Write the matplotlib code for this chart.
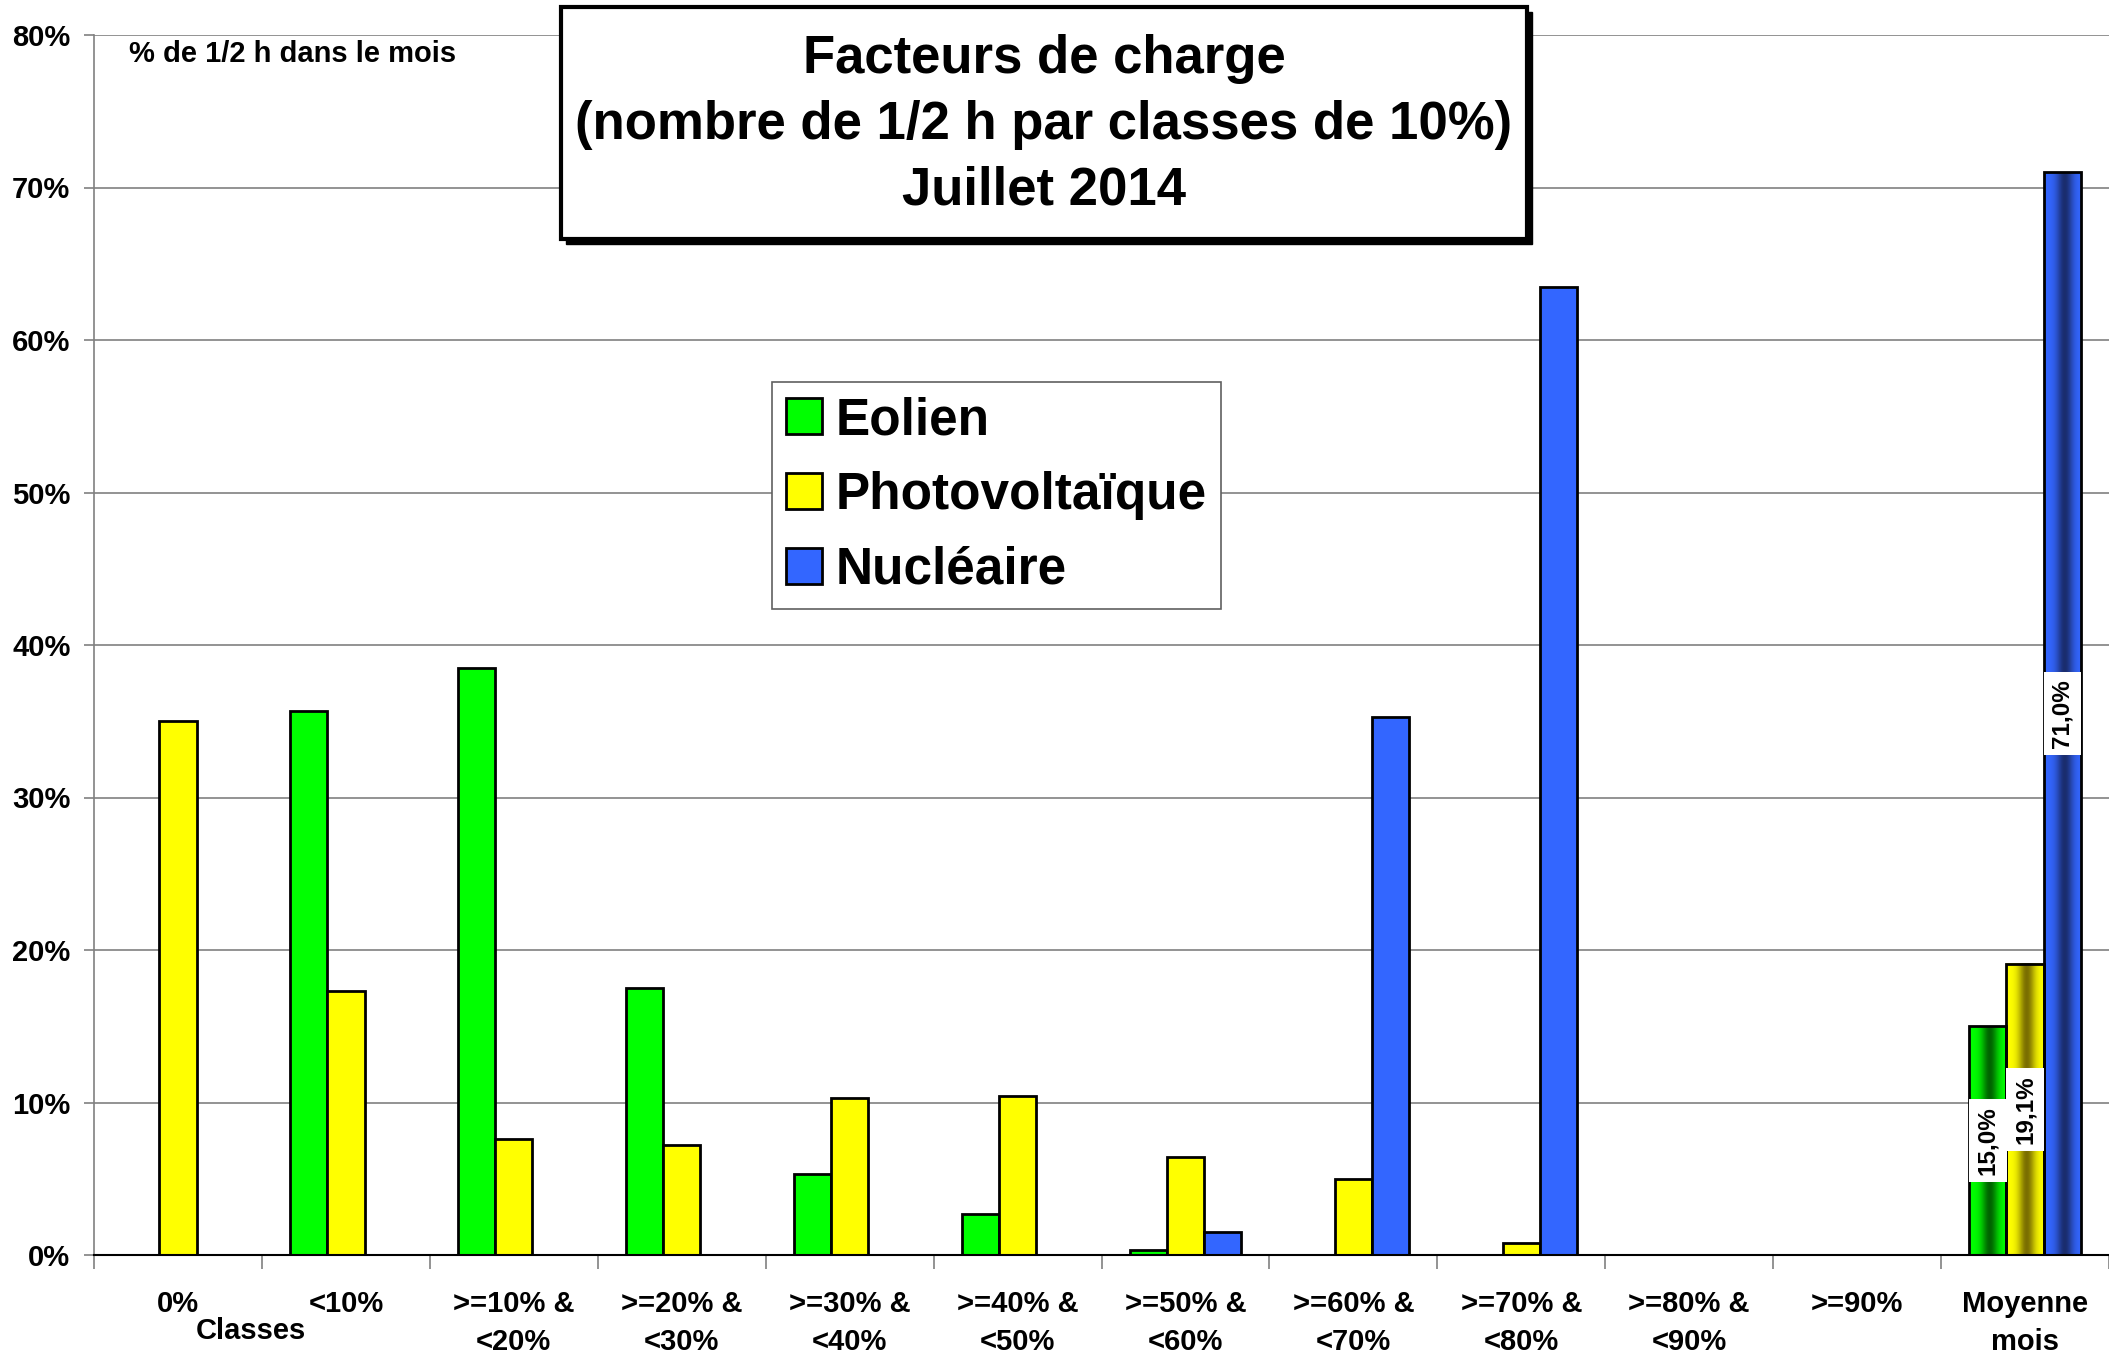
import matplotlib
matplotlib.use('Agg')
import matplotlib.pyplot as plt
from matplotlib.patches import Rectangle
import numpy as np

plt.rcParams['font.family'] = ['Liberation Sans', 'DejaVu Sans']
plt.rcParams['font.weight'] = 'bold'

categories = ['0%', '<10%', '>=10% &\n<20%', '>=20% &\n<30%', '>=30% &\n<40%',
              '>=40% &\n<50%', '>=50% &\n<60%', '>=60% &\n<70%', '>=70% &\n<80%',
              '>=80% &\n<90%', '>=90%', 'Moyenne\nmois']
eolien = [0.0, 35.7, 38.5, 17.5, 5.3, 2.7, 0.3, 0.0, 0.0, 0.0, 0.0, 15.0]
photovoltaique = [35.0, 17.3, 7.6, 7.2, 10.3, 10.4, 6.4, 5.0, 0.8, 0.0, 0.0, 19.1]
nucleaire = [0.0, 0.0, 0.0, 0.0, 0.0, 0.0, 1.5, 35.3, 63.5, 0.0, 0.0, 71.0]
series_names = ['Eolien', 'Photovoltaïque', 'Nucléaire']
moyenne_labels = ['15,0%', '19,1%', '71,0%']
y_ticks = [0, 10, 20, 30, 40, 50, 60, 70, 80]
y_ticklabels = ['0%', '10%', '20%', '30%', '40%', '50%', '60%', '70%', '80%']

colors = ['#00ff00', '#ffff00', '#3366ff']
dark_colors = ['#006400', '#7a6e00', '#1a2d6e']

W, H = 2109, 1353


def gradient_bar(ax, bar, light, dark):
    # shaded fill like the original "Moyenne mois" bars
    x0, y0 = bar.get_xy()
    w, h = bar.get_width(), bar.get_height()
    t = np.linspace(0, 1, 64)
    k = np.exp(-((t - 0.55) / 0.22) ** 2)
    c1 = np.array(matplotlib.colors.to_rgb(light))
    c2 = np.array(matplotlib.colors.to_rgb(dark))
    img = (c1[None, :] * (1 - k[:, None]) + c2[None, :] * k[:, None])[None, :, :]
    ax.imshow(img, extent=[x0, x0 + w, y0, y0 + h], aspect='auto',
              interpolation='bilinear', zorder=2)
    bar.set_facecolor('none')
    bar.set_zorder(3)


def main():
    fig = plt.figure(figsize=(W / 100, H / 100), dpi=100)
    ax = fig.add_axes([94 / W, 1 - 1255 / H, 1 - 94 / W, (1255 - 35) / H])

    x = np.arange(len(categories))
    bw = 0.222
    all_series = [eolien, photovoltaique, nucleaire]
    containers = []
    for i, vals in enumerate(all_series):
        bars = ax.bar(x + (i - 1) * bw, vals, bw, color=colors[i], edgecolor='black',
                      linewidth=2, label=series_names[i], zorder=2)
        containers.append(bars)

    # last group gets the gradient + value labels
    for i, bars in enumerate(containers):
        b = bars[-1]
        gradient_bar(ax, b, colors[i], dark_colors[i])
        ax.text(b.get_x() + b.get_width() / 2, b.get_height() / 2, moyenne_labels[i],
                rotation=90, ha='center', va='center', fontsize=17.5, fontweight='bold',
                zorder=5, bbox=dict(boxstyle='square,pad=0.3', fc='white', ec='none'))

    ax.set_xlim(-0.5, len(categories) - 0.5)
    ax.set_ylim(0, 80)
    ax.set_yticks(y_ticks)
    ax.set_yticklabels(y_ticklabels, fontsize=21, fontweight='bold')
    ax.yaxis.grid(True, color='#808080', linewidth=1.2)
    ax.set_axisbelow(True)

    ax.set_xticks(np.arange(len(categories) + 1) - 0.5)
    ax.set_xticklabels([])
    ax.set_xticks(x, minor=True)
    ax.set_xticklabels(categories, minor=True, fontsize=21, fontweight='bold',
                       linespacing=1.45)
    ax.tick_params(axis='x', which='major', length=10, width=1.2, color='#808080')
    ax.tick_params(axis='x', which='minor', length=0, pad=25)
    ax.tick_params(axis='y', length=7, width=1.2, color='#808080', pad=10)

    for s in ['top', 'right']:
        ax.spines[s].set_visible(False)
    ax.spines['left'].set_color('#808080')
    ax.spines['left'].set_linewidth(1.2)
    ax.spines['bottom'].set_color('black')
    ax.spines['bottom'].set_linewidth(1.5)

    leg = ax.legend(loc='upper left', bbox_to_anchor=(772 / W, 1 - 382 / H),
                    bbox_transform=fig.transFigure, fontsize=37, frameon=True,
                    fancybox=False, edgecolor='#606060', framealpha=1,
                    borderaxespad=0, borderpad=0.28, handlelength=0.7,
                    handleheight=0.7, handletextpad=0.26, labelspacing=0.5)
    leg.get_frame().set_linewidth(1.2)
    for t in leg.get_texts():
        t.set_fontweight('bold')
    for hnd, c in zip(leg.legend_handles, colors):
        hnd.set_facecolor(c)
        hnd.set_edgecolor('black')

    # title box with shadow
    bx, by, bwid, bhei = 561 / W, 1 - 239 / H, 966 / W, 232 / H
    fig.patches.append(Rectangle((bx + 5 / W, by - 5 / H), bwid, bhei, transform=fig.transFigure,
                                 fc='black', ec='black', zorder=6))
    fig.patches.append(Rectangle((bx, by), bwid, bhei, transform=fig.transFigure,
                                 fc='white', ec='black', lw=3, zorder=7))
    fig.text(bx + bwid / 2, 1 - 125 / H,
             'Facteurs de charge\n(nombre de 1/2 h par classes de 10%)\nJuillet 2014',
             ha='center', va='center', fontsize=38, fontweight='bold',
             linespacing=1.4, zorder=8)

    fig.text(129 / W, 1 - 54 / H, '% de 1/2 h dans le mois', ha='left', va='center',
             fontsize=21, fontweight='bold')
    fig.text(251 / W, 1 - 1331 / H, 'Classes', ha='center', va='center', fontsize=21,
             fontweight='bold', bbox=dict(boxstyle='square,pad=0.1', fc='white', ec='none'))

    fig.savefig('out.png', dpi=100)


if __name__ == "__main__":
    main()
